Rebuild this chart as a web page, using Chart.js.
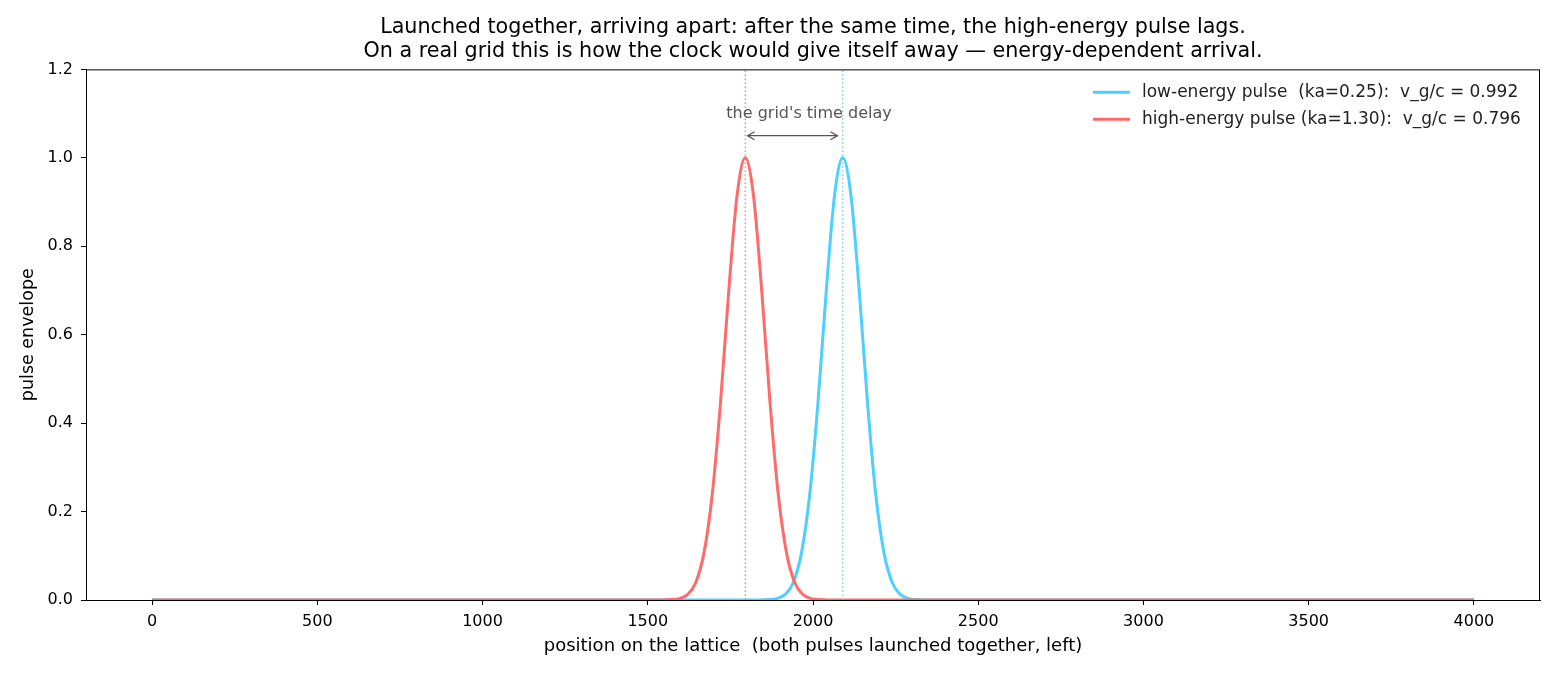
<!DOCTYPE html>
<html>
<head>
<meta charset="utf-8">
<script src="https://cdn.jsdelivr.net/npm/chart.js@4"></script>
<style>
  html, body { margin: 0; padding: 0; background: #fff; }
  #wrap { width: 1560px; height: 676px; }
</style>
</head>
<body>
<div id="wrap"><canvas id="myChart" width="1560" height="676"></canvas></div>
<script>
// valores (envolvente de cada pulso)
const lowX  = [0, 1840, 1865, 1890, 1915, 1940, 1965, 1990, 2015, 2040, 2065, 2090, 2115, 2140, 2165, 2190, 2215, 2240, 2265, 2290, 2315, 2340, 4000];
const lowY  = [0, 0, 0.001, 0.003, 0.012, 0.039, 0.106, 0.238, 0.446, 0.698, 0.914, 1.0, 0.914, 0.698, 0.446, 0.238, 0.106, 0.039, 0.012, 0.003, 0.001, 0, 0];
const highX = [0, 1545, 1570, 1595, 1620, 1645, 1670, 1695, 1720, 1745, 1770, 1795, 1820, 1845, 1870, 1895, 1920, 1945, 1970, 1995, 2020, 2045, 4000];
const highY = [0, 0, 0.001, 0.003, 0.012, 0.039, 0.106, 0.238, 0.446, 0.698, 0.914, 1.0, 0.914, 0.698, 0.446, 0.238, 0.106, 0.039, 0.012, 0.003, 0.001, 0, 0];
const lowPeak = 2090;
const highPeak = 1795;
const xTicks = [0, 500, 1000, 1500, 2000, 2500, 3000, 3500, 4000];
const yTicks = [0, 0.2, 0.4, 0.6, 0.8, 1.0, 1.2];
const legendLabels = [
  'low-energy pulse  (ka=0.25):  v_g/c = 0.992',
  'high-energy pulse (ka=1.30):  v_g/c = 0.796'
];
const arrowFrom = 1802, arrowTo = 2074, arrowY = 1.05;
const noteText = "the grid's time delay";
const noteX = 1988, noteY = 1.10;

const BLUE = '#4dcfff';
const RED = '#ff6b6b';
const FONT = "'DejaVu Sans', sans-serif";

const pts = (xs, ys) => xs.map((x, i) => ({ x: x, y: ys[i] }));

// caja, flecha, nota y leyenda
const extras = {
  id: 'extras',
  afterLayout(chart) {
    // centrar el titulo sobre el area del grafico
    const tb = chart.titleBlock;
    if (tb) {
      tb.left = chart.chartArea.left;
      tb.right = chart.chartArea.right;
      tb.width = tb.right - tb.left;
    }
  },
  afterDatasetsDraw(chart) {
    const { ctx, chartArea: a, scales: { x, y } } = chart;
    ctx.save();
    ctx.strokeStyle = '#000';
    ctx.lineWidth = 1;
    ctx.strokeRect(a.left + 0.5, a.top + 0.5, a.right - a.left - 1, a.bottom - a.top);

    // flecha doble
    const x1 = x.getPixelForValue(arrowFrom), x2 = x.getPixelForValue(arrowTo), yy = y.getPixelForValue(arrowY);
    ctx.strokeStyle = '#555';
    ctx.lineWidth = 1.3;
    ctx.beginPath();
    ctx.moveTo(x1, yy); ctx.lineTo(x2, yy);
    ctx.moveTo(x1 + 7, yy - 4); ctx.lineTo(x1, yy); ctx.lineTo(x1 + 7, yy + 4);
    ctx.moveTo(x2 - 7, yy - 4); ctx.lineTo(x2, yy); ctx.lineTo(x2 - 7, yy + 4);
    ctx.stroke();

    ctx.fillStyle = '#555';
    ctx.font = '16px ' + FONT;
    ctx.textAlign = 'center';
    ctx.textBaseline = 'middle';
    ctx.fillText(noteText, x.getPixelForValue(noteX), y.getPixelForValue(noteY));

    // leyenda
    const colors = [BLUE, RED];
    ctx.font = '17px ' + FONT;
    ctx.textAlign = 'left';
    legendLabels.forEach((t, i) => {
      const ly = a.top + 23 + i * 27;
      ctx.strokeStyle = colors[i];
      ctx.lineWidth = 3;
      ctx.beginPath();
      ctx.moveTo(a.right - 447, ly); ctx.lineTo(a.right - 410, ly);
      ctx.stroke();
      ctx.fillStyle = '#222';
      ctx.fillText(t, a.right - 398, ly);
    });
    ctx.restore();
  }
};

new Chart(document.getElementById('myChart'), {
  type: 'line',
  data: {
    datasets: [
      {
        label: legendLabels[0],
        data: pts(lowX, lowY),
        borderColor: BLUE,
        borderWidth: 3,
        cubicInterpolationMode: 'monotone',
        pointRadius: 0,
        order: 2
      },
      {
        label: legendLabels[1],
        data: pts(highX, highY),
        borderColor: RED,
        borderWidth: 3,
        cubicInterpolationMode: 'monotone',
        pointRadius: 0,
        order: 1
      },
      {
        label: 'low peak',
        data: [{ x: lowPeak, y: 0 }, { x: lowPeak, y: 1.2 }],
        borderColor: 'rgba(77,207,255,0.95)',
        borderWidth: 1.2,
        borderDash: [1.5, 2.5],
        pointRadius: 0,
        order: 0
      },
      {
        label: 'high peak',
        data: [{ x: highPeak, y: 0 }, { x: highPeak, y: 1.2 }],
        borderColor: 'rgba(255,107,107,0.95)',
        borderWidth: 1.2,
        borderDash: [1.5, 2.5],
        pointRadius: 0,
        order: 0
      }
    ]
  },
  options: {
    responsive: false,
    animation: false,
    devicePixelRatio: 1,
    layout: { padding: { left: 0, right: 20, top: 0, bottom: 0 } },
    plugins: {
      legend: { display: false },
      tooltip: { enabled: false },
      title: {
        display: true,
        text: [
          'Launched together, arriving apart: after the same time, the high-energy pulse lags.',
          'On a real grid this is how the clock would give itself away \u2014 energy-dependent arrival.'
        ],
        color: '#000',
        font: { family: FONT, size: 20.7, weight: 'normal', lineHeight: 1.12 },
        padding: { top: 16.5, bottom: 6.5 }
      }
    },
    scales: {
      x: {
        type: 'linear',
        min: -200,
        max: 4200,
        afterBuildTicks: s => { s.ticks = xTicks.map(v => ({ value: v })); },
        afterFit: s => { s.height = 76; },
        grid: { drawOnChartArea: false, color: '#000', tickLength: 5, tickWidth: 1 },
        border: { color: '#000', width: 1 },
        ticks: { color: '#000', font: { family: FONT, size: 16 }, padding: 7, maxRotation: 0, callback: v => String(v) },
        title: {
          display: true,
          text: 'position on the lattice  (both pulses launched together, left)',
          color: '#000',
          font: { family: FONT, size: 18 },
          padding: { top: 0, bottom: 18.5 }
        }
      },
      y: {
        type: 'linear',
        min: 0,
        max: 1.2,
        afterBuildTicks: s => { s.ticks = yTicks.map(v => ({ value: v })); },
        afterFit: s => { s.width = 86; },
        grid: { drawOnChartArea: false, color: '#000', tickLength: 5, tickWidth: 1 },
        border: { color: '#000', width: 1 },
        ticks: { color: '#000', font: { family: FONT, size: 16 }, padding: 8, callback: v => v.toFixed(1) },
        title: {
          display: true,
          text: 'pulse envelope',
          color: '#000',
          font: { family: FONT, size: 17.5 },
          padding: { top: 17.5, bottom: 0 }
        }
      }
    }
  },
  plugins: [extras]
});
</script>
</body>
</html>
